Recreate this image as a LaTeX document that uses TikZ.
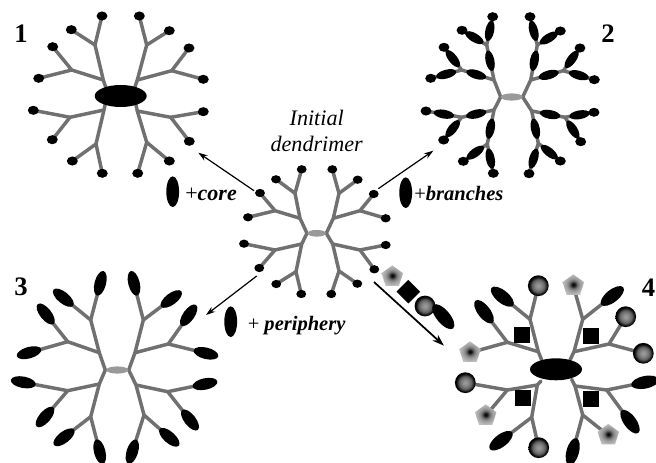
\documentclass[tikz,border=0pt]{standalone}
\usepackage{fontspec}
\setmainfont{Liberation Serif}
\usetikzlibrary{shapes.geometric,arrows.meta}

% radial fills for the two kinds of end group
\pgfdeclareradialshading{ballfill}{\pgfpoint{0bp}{0bp}}{%
  color(0bp)=(black!38); color(7bp)=(black!46); color(15bp)=(black!62);
  color(20bp)=(black!88); color(23bp)=(black); color(50bp)=(black)}
\pgfdeclareradialshading{penta}{\pgfpoint{0bp}{0bp}}{%
  color(0bp)=(black); color(4bp)=(black!88); color(9bp)=(black!58);
  color(15bp)=(black!40); color(25bp)=(black!25); color(50bp)=(black!25)}

\tikzset{
  branch/.style={draw=black!56,line width=2.6pt,line join=round,line cap=round},
  blob/.style={ellipse,fill=black,draw=none,inner sep=0pt},
  enddot/.style={blob,minimum width=8.2pt,minimum height=6.8pt},
  enddotsmall/.style={blob,minimum width=7.4pt,minimum height=6.2pt},
  bead/.style={blob,sloped,minimum width=15.5pt,minimum height=6.6pt},
  capsule/.style={blob,sloped,minimum width=19pt,minimum height=8.6pt},
  corelarge/.style={blob,minimum width=39pt,minimum height=16.5pt},
  coresmall/.style={ellipse,fill=black!40,draw=none,inner sep=0pt,minimum width=16.5pt,minimum height=5.4pt},
  ball/.style={circle,shading=ballfill,draw=none,inner sep=0pt,minimum size=15.6pt},
  pentagon/.style={regular polygon,regular polygon sides=5,shading=penta,draw=none,inner sep=0pt,minimum size=17pt},
  tile/.style={rectangle,fill=black,draw=none,inner sep=0pt,minimum size=12pt},
  bigcap/.style={blob,sloped,minimum width=21pt,minimum height=9.4pt},
  reagent/.style={blob,minimum width=9.6pt,minimum height=23pt},
  arrowline/.style={draw=black,line width=.9pt,-{Stealth[length=7pt,width=4.6pt]}},
  arrowbold/.style={draw=black,line width=1.3pt,-{Stealth[length=9pt,width=6pt]}},
  number/.style={font=\fontsize{20}{22}\selectfont\bfseries,inner sep=0pt},
  title/.style={font=\fontsize{16.6}{18}\selectfont\itshape,inner sep=0pt},
  tag/.style={font=\fontsize{16.5}{18}\selectfont,inner sep=0pt,anchor=base west},
  tagsmall/.style={font=\fontsize{15.4}{18}\selectfont,inner sep=0pt,anchor=base west},
}

% one arm of a dendrimer: root, junction, two forks and their four ends
\newcommand\armlines[9]{%
  \coordinate (#1-a) at (#2);
  \coordinate (#1-j) at (#3);
  \coordinate (#1-b) at (#4);
  \coordinate (#1-l1) at (#5);
  \coordinate (#1-l2) at (#6);
  \coordinate (#1-c) at (#7);
  \coordinate (#1-l3) at (#8);
  \coordinate (#1-l4) at (#9);
  \draw[branch] (#1-a) -- (#1-j) -- (#1-b) -- (#1-l1);
  \draw[branch] (#1-b) -- (#1-l2);
  \draw[branch] (#1-j) -- (#1-c) -- (#1-l3);
  \draw[branch] (#1-c) -- (#1-l4);
}
\newcommand\dotends[2]{%
  \node[#2] (#1-e1) at (#1-l1) {};
  \node[#2] (#1-e2) at (#1-l2) {};
  \node[#2] (#1-e3) at (#1-l3) {};
  \node[#2] (#1-e4) at (#1-l4) {};
}
\newcommand\capends[2]{%
  \path (#1-b) -- node[#2,pos=1] (#1-e1) {} (#1-l1);
  \path (#1-b) -- node[#2,pos=1] (#1-e2) {} (#1-l2);
  \path (#1-c) -- node[#2,pos=1] (#1-e3) {} (#1-l3);
  \path (#1-c) -- node[#2,pos=1] (#1-e4) {} (#1-l4);
}
\newcommand\beads[1]{%
  \path (#1-j) -- node[bead,pos=.55] (#1-m1) {} (#1-b);
  \path (#1-j) -- node[bead,pos=.55] (#1-m2) {} (#1-c);
  \path (#1-b) -- node[bead,pos=.5] (#1-m3) {} (#1-l1);
  \path (#1-b) -- node[bead,pos=.5] (#1-m4) {} (#1-l2);
  \path (#1-c) -- node[bead,pos=.5] (#1-m5) {} (#1-l3);
  \path (#1-c) -- node[bead,pos=.5] (#1-m6) {} (#1-l4);
}

\begin{document}
\begin{tikzpicture}[x=.75pt,y=-.75pt]
\useasboundingbox (0,0) rectangle (656,463);
\fill[white] (0,0) rectangle (656,463);
\clip (0,0) rectangle (656,463);

% central dendrimer
\armlines{oa}{307,233.3}{300,218.3}{295,193.3}{301.7,169.3}{276,179.3}{275,210.7}{260,193}{248,217.3}
\armlines{ob}{307,233.3}{301.7,244}{296,271.7}{301.3,294}{276.3,284}{275,250}{259.3,268}{244,243.7}
\armlines{oc}{326.3,233.3}{333.3,218.3}{339,193.3}{332.3,169.3}{357.7,179.7}{360,210.7}{373.7,194}{385.7,218.3}
\armlines{od}{326.3,233.3}{332.7,244}{339,271}{331.3,294}{357.3,283.7}{360,250}{374.3,269.3}{385.7,245}
\node[coresmall,minimum width=14pt,minimum height=5pt] (ocore) at (316.7,233.3) {};
\foreach \p in {oa,ob,oc,od}{\dotends{\p}{enddotsmall}}

% product 1: labelled core
\armlines{pa}{106.7,90}{103.3,80}{95,45}{102,16}{71.3,29.7}{71.7,70}{52.7,46.7}{38.7,78.3}
\armlines{pb}{106,100}{104,110}{96,144}{102.3,173.3}{72.3,161}{70,117.3}{52.3,139.7}{33.3,110.3}
\armlines{pc}{134,90}{137.3,80}{146.7,45}{139.3,16}{169.3,30.7}{171.7,70.7}{189,48}{203.3,79.3}
\armlines{pd}{135,100}{137.3,111}{146.7,142.3}{137.7,173.3}{169.3,161}{170.7,117.3}{189.3,141.3}{203.3,111.7}
\node[corelarge] (pcore) at (120.7,96) {};
\foreach \p in {pa,pb,pc,pd}{\dotends{\p}{enddot}}

% product 2: labelled branches
\armlines{qa}{500.7,97}{494,80}{486.7,45}{492.7,16.7}{462,30.3}{461.7,70}{444,47.3}{430.7,78.3}
\armlines{qb}{500.7,97}{494,110}{487.3,144}{493.3,173.3}{463.3,161.3}{461.7,117.3}{443.7,140}{426,111}
\armlines{qc}{522.7,97}{530.7,80}{537.3,45}{530,16.7}{560.3,31}{563.3,70.7}{580,48}{594.3,79.7}
\armlines{qd}{522.7,97}{531.7,111}{538.3,143.3}{529,173.7}{560.3,161}{565,117.3}{580.7,141.7}{594,112.3}
\node[coresmall] (qcore) at (511.7,97) {};
\foreach \p in {qa,qb,qc,qd}{\beads{\p}\dotends{\p}{enddot}}

% product 3: labelled periphery
\armlines{ra}{105.3,370}{99.3,352.7}{90.7,320}{100.3,283.3}{63.3,297.7}{67.7,341.7}{45.7,314}{29,352.7}
\armlines{rb}{105.3,370}{99.3,384}{90.7,416.7}{99.7,451.7}{64,437.3}{67.7,390.7}{45,417}{23.3,382.3}
\armlines{rc}{128.7,370}{135,352.7}{143.3,320}{134,283.3}{171.3,299}{168.3,344}{188.7,315.3}{206,353.3}
\armlines{rd}{128.7,370}{136,385}{144,415}{132.3,451.7}{169.3,437.3}{167.7,391.7}{190,420}{205,384}
\node[coresmall] (rcore) at (117.3,370) {};
\foreach \p in {ra,rb,rc,rd}{\capends{\p}{capsule}}

% product 4: every position labelled
\armlines{sa}{541.7,360}{538.3,351.7}{530,319.3}{538.3,285.7}{502.3,296.7}{507.3,342.3}{484,311.7}{470,352.7}
\armlines{sb}{541,381}{537.3,385}{531.7,417.3}{538.7,447.7}{501,440.7}{507.3,390}{485.7,415.7}{465.3,382.7}
\armlines{sc}{570,360}{574,351.7}{582.7,319.3}{573.3,285.7}{612.3,296}{609,344}{625.7,316.7}{643.3,353.3}
\armlines{sd}{571.7,379.3}{575,386}{582.7,415}{572.7,451.7}{608.3,435.3}{606.7,390}{630,421.7}{645,382.3}
\node[corelarge] (score) at (556,369.3) {};
\node[ball] (sa1) at (sa-l1) {};
\path (sa-b) -- node[bigcap,pos=1] (sa2) {} (sa-l2);
\path (sa-c) -- node[bigcap,pos=1] (sa3) {} (sa-l3);
\node[pentagon] (sa4) at (sa-l4) {};
\node[ball] (sb1) at (sb-l1) {};
\path (sb-b) -- node[bigcap,pos=1] (sb2) {} (sb-l2);
\node[pentagon] (sb3) at (sb-l3) {};
\node[ball] (sb4) at (sb-l4) {};
\node[pentagon] (sc1) at (sc-l1) {};
\path (sc-b) -- node[bigcap,pos=1] (sc2) {} (sc-l2);
\node[ball] (sc3) at (sc-l3) {};
\node[ball] (sc4) at (sc-l4) {};
\path (sd-b) -- node[bigcap,pos=1] (sd1) {} (sd-l1);
\node[pentagon] (sd2) at (sd-l2) {};
\path (sd-c) -- node[bigcap,pos=1] (sd3) {} (sd-l3);
\path (sd-c) -- node[bigcap,pos=1] (sd4) {} (sd-l4);
\node[tile] (st1) at (522.3,334.7) {};
\node[tile] (st2) at (523.3,398.3) {};
\node[tile] (st3) at (591,335.7) {};
\node[tile] (st4) at (591,399.3) {};

% reaction arrows
\coordinate (u1) at (254,190.7);   \coordinate (v1) at (198.3,152.7);
\coordinate (u2) at (378.3,188.7); \coordinate (v2) at (433.3,150.7);
\coordinate (u3) at (256.7,276);   \coordinate (v3) at (206,315);
\coordinate (u4) at (374,282);     \coordinate (v4) at (444,345.7);
\draw[arrowline] (u1) -- (v1);
\draw[arrowline] (u2) -- (v2);
\draw[arrowline] (u3) -- (v3);
\draw[arrowbold] (u4) -- (v4);

% reagents beside the arrows
\node[reagent] (g1) at (172.7,191.7) {};
\node[reagent] (g2) at (405.7,192.7) {};
\node[reagent] (g3) at (230.7,321.7) {};
\node[pentagon] (g4) at (392.3,276.7) {};
\node[rectangle,rotate=45,fill=black,inner sep=0pt,minimum size=12.5pt] (g5) at (408.3,291.7) {};
\node[ball] (g6) at (425,306) {};
\node[blob,rotate=-50,minimum width=23pt,minimum height=10pt] (g7) at (443.3,316.7) {};

% text
\node[number] (n1) at (21,33.5) {1};
\node[number] (n2) at (608,34) {2};
\node[number] (n3) at (21,287) {3};
\node[number,anchor=east] (n4) at (655.5,288) {4};
\node[title] (t1) at (316.7,118) {Initial};
\node[title] (t2) at (316.7,144) {dendrimer};
\node[tag] (l1) at (185,200.5) {+\textbf{\textit{core}}};
\node[tagsmall] (l2) at (414,200.5) {+\textbf{\textit{branches}}};
\node[tagsmall] (l3) at (247.5,330.7) {+ \textbf{\textit{periphery}}};
\end{tikzpicture}
\end{document}
